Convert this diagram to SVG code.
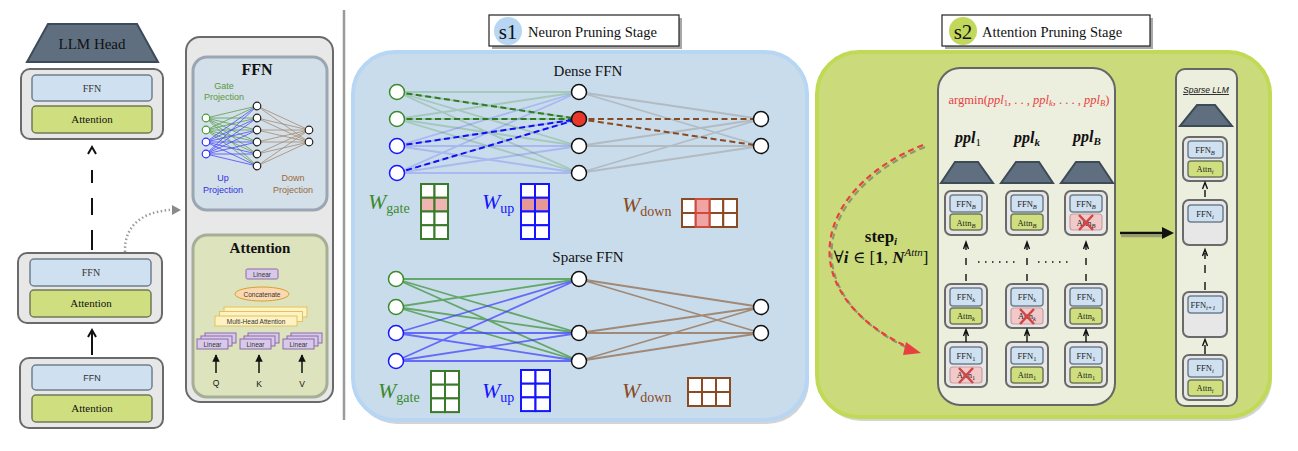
<svg xmlns="http://www.w3.org/2000/svg" width="1298" height="451" viewBox="0 0 1298 451">
<defs>
<style>
.serif{font-family:"Liberation Serif","DejaVu Serif",serif}
.sans{font-family:"Liberation Sans","DejaVu Sans",sans-serif}
.blk{fill:#e7e7e7;stroke:#6a6a6a;stroke-width:2}
.ffn{fill:#cfe0f1;stroke:#6f7f8e;stroke-width:1.5}
.att{fill:#cfdf7f;stroke:#6f7a5a;stroke-width:1.5}
.cross{fill:#f2c9c9;stroke:#c9a0a0;stroke-width:1.2}
.xm{stroke:#d04545;stroke-width:2.5;fill:none}
.head{fill:#5f6f80;stroke:#3d4a57;stroke-width:2}
.lbl{font-size:8.5px;fill:#222;text-anchor:middle}
.nd{fill:#fff;stroke:#111;stroke-width:1.5}
.ng{fill:#fff;stroke:#3a8a2a;stroke-width:1.5}
.nb{fill:#fff;stroke:#1515ff;stroke-width:1.5}
.ln{font-size:6.5px;fill:#333;text-anchor:middle}
.lin{fill:#d8c8ea;stroke:#8a6aa8;stroke-width:1}
.mha{fill:#fdf2c4;stroke:#e3c25a;stroke-width:1}
</style>
<marker id="ah" viewBox="0 0 10 10" refX="9" refY="5" markerWidth="5" markerHeight="5" orient="auto"><path d="M0 0L10 5L0 10z" fill="#111"/></marker>
</defs>
<rect width="1298" height="451" fill="#fff"/>

<!-- separator -->
<line x1="344" y1="10" x2="344" y2="420" stroke="#9a9a9a" stroke-width="2.5"/>

<!-- Left stack -->
<g id="llm-head">
<polygon class="head" points="48,24 137,24 158,62 27,62"/>
<text class="serif" x="92" y="49" font-size="15" text-anchor="middle" fill="#111">LLM Head</text>
</g>
<g id="layer-top">
<rect class="blk" x="21" y="69" width="142" height="70" rx="9"/>
<rect class="ffn" x="32" y="75" width="120" height="26" rx="4"/>
<rect class="att" x="32" y="106" width="120" height="27" rx="4"/>
<text class="serif" x="92" y="92" font-size="10" text-anchor="middle" fill="#333">FFN</text>
<text class="serif" x="92" y="123" font-size="11" text-anchor="middle" fill="#111">Attention</text>
</g>
<g id="layer-mid">
<rect class="blk" x="18" y="253" width="144" height="70" rx="9"/>
<rect class="ffn" x="30" y="259" width="121" height="27" rx="4"/>
<rect class="att" x="30" y="290" width="121" height="27" rx="4"/>
<text class="serif" x="91" y="276" font-size="10" text-anchor="middle" fill="#333">FFN</text>
<text class="serif" x="91" y="307" font-size="11" text-anchor="middle" fill="#111">Attention</text>
</g>
<g id="layer-bottom">
<rect class="blk" x="20" y="358" width="143" height="70" rx="9"/>
<rect class="ffn" x="32" y="365" width="120" height="25" rx="4"/>
<rect class="att" x="32" y="395" width="120" height="27" rx="4"/>
<text class="sans" x="92" y="381" font-size="9" text-anchor="middle" fill="#333">FFN</text>
<text class="serif" x="92" y="412" font-size="11" text-anchor="middle" fill="#111">Attention</text>
</g>

<!-- Detail panel -->
<g id="detail-panel">
<rect x="186" y="37" width="147" height="365" rx="14" fill="#e8e8e8" stroke="#6a6a6a" stroke-width="2"/>
</g>
<g id="ffn-detail">
<rect x="193" y="57" width="134" height="153" rx="14" fill="#d3dfe9" stroke="#9aa6b2" stroke-width="3"/>
<text class="serif" x="257" y="75" font-size="16" font-weight="bold" text-anchor="middle" fill="#111">FFN</text>
<text class="sans" x="224" y="89" font-size="9" text-anchor="middle" fill="#5a9a3a">Gate</text>
<text class="sans" x="224" y="100" font-size="9" text-anchor="middle" fill="#5a9a3a">Projection</text>
<text class="sans" x="223" y="181" font-size="9" text-anchor="middle" fill="#3030e0">Up</text>
<text class="sans" x="223" y="193" font-size="9" text-anchor="middle" fill="#3030e0">Projection</text>
<text class="sans" x="293" y="181" font-size="9" text-anchor="middle" fill="#9a6a40">Down</text>
<text class="sans" x="293" y="193" font-size="9" text-anchor="middle" fill="#9a6a40">Projection</text>
<path d="M206 118L257 106M206 118L257 118M206 118L257 130M206 118L257 142M206 118L257 154M206 118L257 166M206 130L257 106M206 130L257 118M206 130L257 130M206 130L257 142M206 130L257 154M206 130L257 166" stroke="#5aa050" stroke-width="0.8" fill="none"/>
<path d="M206 142L257 106M206 142L257 118M206 142L257 130M206 142L257 142M206 142L257 154M206 142L257 166M206 154L257 106M206 154L257 118M206 154L257 130M206 154L257 142M206 154L257 154M206 154L257 166" stroke="#4a4aff" stroke-width="0.8" fill="none"/>
<path d="M257 106L309 130M257 118L309 130M257 130L309 130M257 142L309 130M257 154L309 130M257 166L309 130M257 106L309 142M257 118L309 142M257 130L309 142M257 142L309 142M257 154L309 142M257 166L309 142" stroke="#a68a70" stroke-width="0.8" fill="none"/>
<g stroke-width="1.2">
<circle cx="206" cy="118" r="3.8" fill="#fff" stroke="#4a9a3a"/>
<circle cx="206" cy="130" r="3.8" fill="#fff" stroke="#4a9a3a"/>
<circle cx="206" cy="142" r="3.8" fill="#fff" stroke="#3030ff"/>
<circle cx="206" cy="154" r="3.8" fill="#fff" stroke="#3030ff"/>
<circle cx="257" cy="106" r="3.8" fill="#fff" stroke="#222"/>
<circle cx="257" cy="118" r="3.8" fill="#fff" stroke="#222"/>
<circle cx="257" cy="130" r="3.8" fill="#fff" stroke="#222"/>
<circle cx="257" cy="142" r="3.8" fill="#fff" stroke="#222"/>
<circle cx="257" cy="154" r="3.8" fill="#fff" stroke="#222"/>
<circle cx="257" cy="166" r="3.8" fill="#fff" stroke="#222"/>
<circle cx="309" cy="130" r="3.8" fill="#fff" stroke="#222"/>
<circle cx="309" cy="142" r="3.8" fill="#fff" stroke="#222"/>
</g>
</g>
<g id="attention-detail">
<rect x="193" y="235" width="134" height="162" rx="14" fill="#dde4bd" stroke="#a6ae96" stroke-width="3"/>
<text class="serif" x="260" y="253" font-size="15" font-weight="bold" text-anchor="middle" fill="#111">Attention</text>
<rect class="lin" x="246" y="269" width="32" height="10" rx="1.5"/>
<text class="sans ln" x="262" y="276.5">Linear</text>
<ellipse cx="262" cy="294" rx="27" ry="7" fill="#fbd8b0" stroke="#d8a030" stroke-width="1"/>
<text class="sans ln" x="262" y="296.5">Concatenate</text>
<rect class="mha" x="224" y="307" width="83" height="10"/>
<rect class="mha" x="219.5" y="311.5" width="83" height="10"/>
<rect class="mha" x="215" y="316" width="82" height="10"/>
<text class="sans ln" x="256" y="323.5">Multi-Head Attention</text>
<rect class="lin" x="205" y="333" width="31" height="10"/><rect class="lin" x="201" y="336" width="31" height="10"/><rect class="lin" x="197" y="339" width="31" height="10"/>
<text class="sans ln" x="212.5" y="346.5">Linear</text>
<rect class="lin" x="248" y="333" width="31" height="10"/><rect class="lin" x="244" y="336" width="31" height="10"/><rect class="lin" x="240" y="339" width="31" height="10"/>
<text class="sans ln" x="255.5" y="346.5">Linear</text>
<rect class="lin" x="291" y="333" width="31" height="10"/><rect class="lin" x="287" y="336" width="31" height="10"/><rect class="lin" x="283" y="339" width="31" height="10"/>
<text class="sans ln" x="298.5" y="346.5">Linear</text>
<text class="sans" x="216" y="386" font-size="8.5" text-anchor="middle" fill="#111">Q</text>
<text class="sans" x="259" y="387" font-size="8.5" text-anchor="middle" fill="#111">K</text>
<text class="sans" x="302" y="387" font-size="8.5" text-anchor="middle" fill="#111">V</text>
</g>

<!-- s1 -->
<g id="s1-panel">
<rect x="355" y="56" width="454" height="368" rx="42" fill="#d4d4d4"/>
<rect x="353" y="52" width="454" height="368" rx="42" fill="#c9dcec" stroke="#b6d6f3" stroke-width="4"/>
</g>
<g id="s1-header">
<rect x="492" y="18" width="190" height="31" fill="#a8a8a8"/>
<rect x="489" y="15" width="190" height="31" fill="#fff" stroke="#222" stroke-width="1.2"/>
<circle cx="508" cy="31" r="14" fill="#b6d6f3"/>
<text class="serif" x="508" y="38.5" font-size="21" text-anchor="middle" fill="#111">s1</text>
<text class="serif" x="528" y="36.5" font-size="14.5" fill="#111">Neuron Pruning Stage</text>
</g>
<g id="dense-ffn">
<text class="serif" x="588" y="76" font-size="15" text-anchor="middle" fill="#111">Dense FFN</text>
<path d="M397 92L579 92M397 92L579 119M397 92L579 146M397 92L579 173M397 119L579 92M397 119L579 119M397 119L579 146M397 119L579 173" stroke="#3a8a2a" stroke-opacity="0.25" stroke-width="1.8" fill="none"/>
<path d="M397 146L579 92M397 146L579 119M397 146L579 146M397 146L579 173M397 173L579 92M397 173L579 119M397 173L579 146M397 173L579 173" stroke="#3a3aff" stroke-opacity="0.22" stroke-width="1.8" fill="none"/>
<path d="M579 92L761 119M579 92L761 146M579 146L761 119M579 146L761 146M579 173L761 119M579 173L761 146" stroke="#a0a0a0" stroke-opacity="0.55" stroke-width="1.8" fill="none"/>
<g stroke-width="2" stroke-dasharray="6,3.5" fill="none">
<path d="M397 92L579 119M397 119L579 119" stroke="#2e7d1e"/>
<path d="M397 146L579 119M397 173L579 119" stroke="#1010f0"/>
<path d="M579 119L761 119M579 119L761 146" stroke="#8a4a22"/>
</g>
<circle class="ng" cx="397" cy="92" r="7.5"/>
<circle class="ng" cx="397" cy="119" r="7.5"/>
<circle class="nb" cx="397" cy="146" r="7.5"/>
<circle class="nb" cx="397" cy="173" r="7.5"/>
<circle class="nd" cx="579" cy="92" r="7.5"/>
<circle cx="579" cy="119" r="7.5" fill="#e8382a" stroke="#111" stroke-width="1.5"/>
<circle class="nd" cx="579" cy="146" r="7.5"/>
<circle class="nd" cx="579" cy="173" r="7.5"/>
<circle class="nd" cx="761" cy="119" r="7.5"/>
<circle class="nd" cx="761" cy="146" r="7.5"/>
</g>
<g id="dense-weights">
<text class="serif" x="368" y="209" fill="#3a8a2a"><tspan font-size="22" font-style="italic">W</tspan><tspan font-size="14" dy="4">gate</tspan></text>
<g stroke="#3a7a2a" stroke-width="2" fill="#fff">
<rect x="421" y="184" width="13.5" height="13.75"/><rect x="434.5" y="184" width="13.5" height="13.75"/>
<rect x="421" y="197.75" width="13.5" height="13.75" fill="#f2b3b3"/><rect x="434.5" y="197.75" width="13.5" height="13.75" fill="#f2b3b3"/>
<rect x="421" y="211.5" width="13.5" height="13.75"/><rect x="434.5" y="211.5" width="13.5" height="13.75"/>
<rect x="421" y="225.25" width="13.5" height="13.75"/><rect x="434.5" y="225.25" width="13.5" height="13.75"/>
</g>
<text class="serif" x="482" y="209" fill="#1515ff"><tspan font-size="22" font-style="italic">W</tspan><tspan font-size="14" dy="4">up</tspan></text>
<g stroke="#1515ff" stroke-width="2" fill="#fff">
<rect x="521" y="184" width="14" height="13.75"/><rect x="535" y="184" width="14" height="13.75"/>
<rect x="521" y="197.75" width="14" height="13.75" fill="#e69898"/><rect x="535" y="197.75" width="14" height="13.75" fill="#e69898"/>
<rect x="521" y="211.5" width="14" height="13.75"/><rect x="535" y="211.5" width="14" height="13.75"/>
<rect x="521" y="225.25" width="14" height="13.75"/><rect x="535" y="225.25" width="14" height="13.75"/>
</g>
<text class="serif" x="622" y="212" fill="#8a4a22"><tspan font-size="22" font-style="italic">W</tspan><tspan font-size="14" dy="4">down</tspan></text>
<g stroke="#8a4a22" stroke-width="2" fill="#fff">
<rect x="682" y="199" width="13.75" height="14"/><rect x="709.5" y="199" width="13.75" height="14"/><rect x="723.25" y="199" width="13.75" height="14"/>
<rect x="682" y="213" width="13.75" height="14"/><rect x="709.5" y="213" width="13.75" height="14"/><rect x="723.25" y="213" width="13.75" height="14"/>
<rect x="695.75" y="199" width="13.75" height="14" fill="#f0a4a4" stroke="#d04a3a"/><rect x="695.75" y="213" width="13.75" height="14" fill="#f0a4a4" stroke="#d04a3a"/>
</g>
</g>
<g id="sparse-ffn">
<text class="serif" x="588" y="262" font-size="15" text-anchor="middle" fill="#111">Sparse FFN</text>
<path d="M396 279L579 279M396 279L579 333M396 279L579 361M396 307L579 279M396 307L579 333M396 307L579 361" stroke="#4a9a4a" stroke-opacity="0.8" stroke-width="1.8" fill="none"/>
<path d="M396 333L579 279M396 333L579 333M396 333L579 361M396 361L579 279M396 361L579 333M396 361L579 361" stroke="#3a3aff" stroke-opacity="0.7" stroke-width="1.8" fill="none"/>
<path d="M579 279L761 307M579 279L761 333M579 333L761 307M579 333L761 333M579 361L761 307M579 361L761 333" stroke="#9a7a62" stroke-opacity="0.85" stroke-width="1.8" fill="none"/>
<circle class="ng" cx="396" cy="279" r="7.5"/>
<circle class="ng" cx="396" cy="307" r="7.5"/>
<circle class="nb" cx="396" cy="333" r="7.5"/>
<circle class="nb" cx="396" cy="361" r="7.5"/>
<circle class="nd" cx="579" cy="279" r="7.5"/>
<circle class="nd" cx="579" cy="333" r="7.5"/>
<circle class="nd" cx="579" cy="361" r="7.5"/>
<circle class="nd" cx="761" cy="307" r="7.5"/>
<circle class="nd" cx="761" cy="333" r="7.5"/>
</g>
<g id="sparse-weights">
<text class="serif" x="378" y="398" fill="#3a8a2a"><tspan font-size="22" font-style="italic">W</tspan><tspan font-size="14" dy="4">gate</tspan></text>
<g stroke="#3a7a2a" stroke-width="2" fill="#fff">
<rect x="431" y="371" width="14" height="13.7"/><rect x="445" y="371" width="14" height="13.7"/>
<rect x="431" y="384.7" width="14" height="13.7"/><rect x="445" y="384.7" width="14" height="13.7"/>
<rect x="431" y="398.4" width="14" height="13.7"/><rect x="445" y="398.4" width="14" height="13.7"/>
</g>
<text class="serif" x="482" y="398" fill="#1515ff"><tspan font-size="22" font-style="italic">W</tspan><tspan font-size="14" dy="4">up</tspan></text>
<g stroke="#1515ff" stroke-width="2" fill="#fff">
<rect x="521" y="370" width="14.5" height="13.7"/><rect x="535.5" y="370" width="14.5" height="13.7"/>
<rect x="521" y="383.7" width="14.5" height="13.7"/><rect x="535.5" y="383.7" width="14.5" height="13.7"/>
<rect x="521" y="397.4" width="14.5" height="13.7"/><rect x="535.5" y="397.4" width="14.5" height="13.7"/>
</g>
<text class="serif" x="622" y="398" fill="#8a4a22"><tspan font-size="22" font-style="italic">W</tspan><tspan font-size="14" dy="4">down</tspan></text>
<g stroke="#8a4a22" stroke-width="2" fill="#fff">
<rect x="688" y="378" width="14" height="14"/><rect x="702" y="378" width="14" height="14"/><rect x="716" y="378" width="14" height="14"/>
<rect x="688" y="392" width="14" height="14"/><rect x="702" y="392" width="14" height="14"/><rect x="716" y="392" width="14" height="14"/>
</g>
</g>

<!-- s2 -->
<g id="s2-panel">
<rect x="819" y="56" width="453" height="365" rx="42" fill="#d4d4d4"/>
<rect x="817" y="52" width="453" height="365" rx="42" fill="#cbdb7b" stroke="#c0da55" stroke-width="4"/>
</g>
<g id="s2-header">
<rect x="945" y="18" width="208" height="31" fill="#a8a8a8"/>
<rect x="942" y="15" width="208" height="31" fill="#fff" stroke="#222" stroke-width="1.2"/>
<circle cx="963" cy="31" r="14" fill="#c2d85c"/>
<text class="serif" x="963" y="38.5" font-size="21" text-anchor="middle" fill="#111">s2</text>
<text class="serif" x="982" y="36.5" font-size="14.5" fill="#111">Attention Pruning Stage</text>
</g>
<g id="candidates-panel">
<rect x="938" y="68" width="177" height="337" rx="22" fill="#eceede" stroke="#666" stroke-width="2"/>
<text class="serif" x="1029" y="104" font-size="12.5" text-anchor="middle" fill="#e84040">argmin(<tspan font-style="italic">ppl</tspan><tspan font-size="8.5" dy="2">1</tspan><tspan dy="-2">, . . , </tspan><tspan font-style="italic">ppl</tspan><tspan font-size="8.5" font-style="italic" dy="2">k</tspan><tspan dy="-2">, . . . , </tspan><tspan font-style="italic">ppl</tspan><tspan font-size="8.5" font-style="italic" dy="2">B</tspan><tspan dy="-2">)</tspan></text>
<text class="serif" x="968" y="143" font-size="16" font-weight="bold" font-style="italic" text-anchor="middle" fill="#111">ppl<tspan font-size="11" font-style="normal" font-weight="normal" dy="3">1</tspan></text>
<text class="serif" x="1027" y="143" font-size="16" font-weight="bold" font-style="italic" text-anchor="middle" fill="#111">ppl<tspan font-size="11" dy="3">k</tspan></text>
<text class="serif" x="1087" y="142" font-size="16" font-weight="bold" font-style="italic" text-anchor="middle" fill="#111">ppl<tspan font-size="11" dy="3">B</tspan></text>
<polygon class="head" points="955,162 978,162 993,183 941,183"/>
<polygon class="head" points="1016,162 1039,162 1053,183 1001,183"/>
<polygon class="head" points="1076,162 1099,162 1113,183 1061,183"/>
</g>
<g id="cand-1">
<rect class="blk" x="945" y="191" width="42" height="44" rx="6"/>
<rect class="ffn" x="950" y="195" width="32" height="17" rx="3"/><rect class="att" x="950" y="214" width="32" height="16" rx="3"/>
<text class="serif lbl" x="966" y="207">FFN<tspan font-size="6.5" font-style="italic" dy="2">B</tspan></text>
<text class="serif lbl" x="966" y="225.5">Attn<tspan font-size="6.5" font-style="italic" dy="2">B</tspan></text>
<rect class="blk" x="945" y="284" width="42" height="44" rx="6"/>
<rect class="ffn" x="950" y="288" width="32" height="18" rx="3"/><rect class="att" x="950" y="308" width="32" height="16" rx="3"/>
<text class="serif lbl" x="966" y="300">FFN<tspan font-size="6.5" font-style="italic" dy="2">k</tspan></text>
<text class="serif lbl" x="966" y="319">Attn<tspan font-size="6.5" font-style="italic" dy="2">k</tspan></text>
<rect class="blk" x="945" y="342" width="42" height="45" rx="6"/>
<rect class="ffn" x="950" y="347" width="32" height="17" rx="3"/><rect class="cross" x="950" y="367" width="32" height="16" rx="3"/>
<text class="serif lbl" x="966" y="359">FFN<tspan font-size="6.5" dy="2">1</tspan></text>
<text class="serif lbl" x="966" y="378">Attn<tspan font-size="6.5" dy="2">1</tspan></text>
<path class="xm" d="M959 368L973 383M973 368L959 383"/>
</g>
<g id="cand-k">
<rect class="blk" x="1006" y="191" width="42" height="44" rx="6"/>
<rect class="ffn" x="1011" y="195" width="32" height="17" rx="3"/><rect class="att" x="1011" y="214" width="32" height="16" rx="3"/>
<text class="serif lbl" x="1027" y="207">FFN<tspan font-size="6.5" font-style="italic" dy="2">B</tspan></text>
<text class="serif lbl" x="1027" y="225.5">Attn<tspan font-size="6.5" font-style="italic" dy="2">B</tspan></text>
<rect class="blk" x="1006" y="284" width="42" height="44" rx="6"/>
<rect class="ffn" x="1011" y="288" width="32" height="18" rx="3"/><rect class="cross" x="1011" y="308" width="32" height="16" rx="3"/>
<text class="serif lbl" x="1027" y="300">FFN<tspan font-size="6.5" font-style="italic" dy="2">k</tspan></text>
<text class="serif lbl" x="1027" y="319">Attn<tspan font-size="6.5" font-style="italic" dy="2">k</tspan></text>
<path class="xm" d="M1020 309L1034 324M1034 309L1020 324"/>
<rect class="blk" x="1006" y="342" width="42" height="45" rx="6"/>
<rect class="ffn" x="1011" y="347" width="32" height="17" rx="3"/><rect class="att" x="1011" y="367" width="32" height="16" rx="3"/>
<text class="serif lbl" x="1027" y="359">FFN<tspan font-size="6.5" dy="2">1</tspan></text>
<text class="serif lbl" x="1027" y="378">Attn<tspan font-size="6.5" dy="2">1</tspan></text>
</g>
<g id="cand-B">
<rect class="blk" x="1065" y="191" width="42" height="44" rx="6"/>
<rect class="ffn" x="1070" y="195" width="32" height="17" rx="3"/><rect class="cross" x="1070" y="214" width="32" height="16" rx="3"/>
<text class="serif lbl" x="1086" y="207">FFN<tspan font-size="6.5" font-style="italic" dy="2">B</tspan></text>
<text class="serif lbl" x="1086" y="225.5">Attn<tspan font-size="6.5" font-style="italic" dy="2">B</tspan></text>
<path class="xm" d="M1079 215L1093 230M1093 215L1079 230"/>
<rect class="blk" x="1065" y="284" width="42" height="44" rx="6"/>
<rect class="ffn" x="1070" y="288" width="32" height="18" rx="3"/><rect class="att" x="1070" y="308" width="32" height="16" rx="3"/>
<text class="serif lbl" x="1086" y="300">FFN<tspan font-size="6.5" font-style="italic" dy="2">k</tspan></text>
<text class="serif lbl" x="1086" y="319">Attn<tspan font-size="6.5" font-style="italic" dy="2">k</tspan></text>
<rect class="blk" x="1065" y="342" width="42" height="45" rx="6"/>
<rect class="ffn" x="1070" y="347" width="32" height="17" rx="3"/><rect class="att" x="1070" y="367" width="32" height="16" rx="3"/>
<text class="serif lbl" x="1086" y="359">FFN<tspan font-size="6.5" dy="2">1</tspan></text>
<text class="serif lbl" x="1086" y="378">Attn<tspan font-size="6.5" dy="2">1</tspan></text>
</g>
<g id="step-label">
<text class="serif" x="881" y="242" font-size="17" font-weight="bold" text-anchor="middle" fill="#111">step<tspan font-size="11" font-style="italic" dy="3">i</tspan></text>
<text class="serif" x="881" y="263" font-size="17" text-anchor="middle" fill="#111">∀<tspan font-weight="bold" font-style="italic">i</tspan> ∈ [<tspan font-weight="bold">1</tspan>, <tspan font-weight="bold" font-style="italic">N</tspan><tspan font-size="11" font-style="italic" dy="-7">Attn</tspan><tspan dy="7">]</tspan></text>
</g>
<g id="sparse-llm">
<rect x="1176" y="69" width="61" height="337" rx="9" fill="#eceede" stroke="#666" stroke-width="2"/>
<text class="sans" x="1206" y="93" font-size="8.5" font-style="italic" text-anchor="middle" text-decoration="underline" fill="#111">Sparse LLM</text>
<polygon class="head" points="1197,105 1215,105 1232,126 1180,126"/>
<rect class="blk" x="1183" y="137" width="44" height="44" rx="6"/>
<rect class="ffn" x="1188" y="141" width="35" height="17" rx="3"/><rect class="att" x="1188" y="161" width="35" height="16" rx="3"/>
<text class="serif lbl" x="1205" y="153">FFN<tspan font-size="6.5" font-style="italic" dy="2">B</tspan></text>
<text class="serif lbl" x="1205" y="172">Attn<tspan font-size="6.5" font-style="italic" dy="2">i</tspan></text>
<rect class="blk" x="1183" y="200" width="44" height="45" rx="6"/>
<rect class="ffn" x="1188" y="205" width="35" height="17" rx="3"/>
<text class="serif lbl" x="1205" y="217">FFN<tspan font-size="6.5" font-style="italic" dy="2">i</tspan></text>
<rect class="blk" x="1183" y="292" width="44" height="45" rx="6"/>
<rect class="ffn" x="1188" y="296" width="35" height="17" rx="3"/>
<text class="serif lbl" x="1203" y="308">FFN<tspan font-size="6.5" font-style="italic" dy="2">i+1</tspan></text>
<rect class="blk" x="1183" y="355" width="44" height="45" rx="6"/>
<rect class="ffn" x="1188" y="359" width="35" height="18" rx="3"/><rect class="att" x="1188" y="380" width="35" height="16" rx="3"/>
<text class="serif lbl" x="1205" y="371">FFN<tspan font-size="6.5" font-style="italic" dy="2">i</tspan></text>
<text class="serif lbl" x="1205" y="391">Attn<tspan font-size="6.5" font-style="italic" dy="2">i</tspan></text>
</g>

<g id="connectors">
<!-- left stack -->
<path d="M92 250V230M92 215V198M92 183V170" stroke="#111" stroke-width="2" fill="none"/>
<path d="M88 154L92 147L96 154" stroke="#111" stroke-width="2" fill="none"/>
<path d="M92 355V332M88 337L92 330L96 337" stroke="#111" stroke-width="2" fill="none"/>
<path d="M125 252C124 226 142 212 170 210" stroke="#9a9a9a" stroke-width="2.5" stroke-dasharray="1.5,2.5" fill="none"/>
<path d="M172 205L181 210L172 215z" fill="#8a8a8a"/>
<!-- Q K V -->
<line x1="216" y1="373" x2="216" y2="355" stroke="#111" stroke-width="1.5" marker-end="url(#ah)"/>
<line x1="259" y1="373" x2="259" y2="355" stroke="#111" stroke-width="1.5" marker-end="url(#ah)"/>
<line x1="302" y1="373" x2="302" y2="355" stroke="#111" stroke-width="1.5" marker-end="url(#ah)"/>
<!-- s2 columns -->
<g stroke="#111" stroke-width="1.4" fill="none">
<path d="M966 281V274M966 265V258M966 250V244M963.5 249L966 242L968.5 249"/>
<path d="M1027 281V274M1027 265V258M1027 250V244M1024.5 249L1027 242L1029.5 249"/>
<path d="M1086 281V274M1086 265V258M1086 250V244M1083.5 249L1086 242L1088.5 249"/>
<path d="M966 342V332M963.5 336L966 329.5L968.5 336"/>
<path d="M1027 342V332M1024.5 336L1027 329.5L1029.5 336"/>
<path d="M1086 342V332M1083.5 336L1086 329.5L1088.5 336"/>
<path d="M978 262H1015M1038 262H1073" stroke-width="1.6" stroke-dasharray="1.5,5.5"/>
<path d="M1205 197V190M1202.5 189L1205 182.5L1207.5 189"/>
<path d="M1205 290V282M1205 273V265M1205 259V253M1202.5 256L1205 249.5L1207.5 256"/>
<path d="M1205 354V345M1202.5 346L1205 339.5L1207.5 346"/>
</g>
<!-- big arrow -->
<line x1="1121" y1="236" x2="1164" y2="236" stroke="#9a9a7a" stroke-width="2.5"/>
<line x1="1120" y1="233" x2="1166" y2="233" stroke="#111" stroke-width="2.5"/>
<path d="M1162 227L1174 233L1162 239z" fill="#111"/>
<!-- red dashed step arrow -->
<path d="M925 147C862 172 827 217 832 262C837 302 872 332 912 350" stroke="#8a9a6a" stroke-width="2.2" stroke-dasharray="6,4" fill="none"/>
<path d="M923 145C860 170 825 215 830 260C835 300 870 330 910 348" stroke="#e84040" stroke-width="2.2" stroke-dasharray="6,4" fill="none"/>
<path d="M906 342L921 353L903 355z" fill="#e84040"/>
</g>
</svg>
